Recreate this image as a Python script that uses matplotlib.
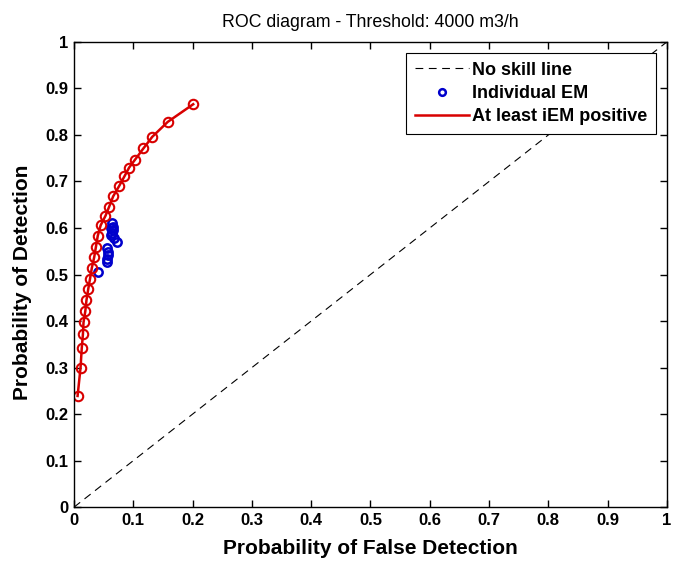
import matplotlib
matplotlib.use("Agg")
import matplotlib.pyplot as plt

plt.rcParams['font.family'] = ['Liberation Sans', 'DejaVu Sans']

# ROC curve: at least iEM positive
pofd_any = [0.006, 0.011, 0.013, 0.015, 0.016, 0.019, 0.021, 0.024, 0.027, 0.030,
            0.034, 0.037, 0.040, 0.045, 0.053, 0.059, 0.066, 0.076, 0.085, 0.093,
            0.103, 0.117, 0.132, 0.158, 0.201]
pod_any = [0.239, 0.300, 0.341, 0.372, 0.397, 0.421, 0.445, 0.469, 0.491, 0.514,
           0.537, 0.560, 0.583, 0.606, 0.626, 0.645, 0.668, 0.690, 0.711, 0.730,
           0.747, 0.771, 0.796, 0.828, 0.866]

# individual ensemble members
pofd_em = [0.064, 0.066, 0.065, 0.063, 0.064, 0.067, 0.073, 0.055, 0.057, 0.058,
           0.056, 0.055, 0.041, 0.062]
pod_em = [0.610, 0.603, 0.596, 0.600, 0.589, 0.578, 0.570, 0.556, 0.549, 0.542,
          0.533, 0.527, 0.506, 0.585]

fig = plt.figure(figsize=(6.73, 5.66), dpi=100)
ax = fig.add_axes([0.110, 0.104, 0.881, 0.822])

ax.plot([0, 1], [0, 1], 'k--', lw=0.8, dashes=(7, 5), label='No skill line')
ax.plot(pofd_em, pod_em, 'o', mfc='none', mec='#0000cc', mew=1.8, ms=6,
        label='Individual EM', linestyle='none')
ax.plot(pofd_any, pod_any, '-', color='#d80000', lw=1.8, label='At least iEM positive')
ax.plot(pofd_any, pod_any, 'o', mfc='none', mec='#d80000', mew=1.5, ms=6.8)

ax.set_xlim(0, 1)
ax.set_ylim(0, 1)
ticks = [i / 10 for i in range(11)]
labels = ['0', '0.1', '0.2', '0.3', '0.4', '0.5', '0.6', '0.7', '0.8', '0.9', '1']
ax.set_xticks(ticks)
ax.set_xticklabels(labels, fontweight='bold', fontsize=12)
ax.set_yticks(ticks)
ax.set_yticklabels(labels, fontweight='bold', fontsize=12)
ax.tick_params(direction='in', top=True, right=True, length=5, width=1, pad=4)
for s in ax.spines.values():
    s.set_linewidth(1)

ax.set_title('ROC diagram - Threshold: 4000 m3/h', fontsize=12.8, pad=11)
ax.set_xlabel('Probability of False Detection', fontsize=15, fontweight='bold')
ax.set_ylabel('Probability of Detection', fontsize=15, fontweight='bold')
ax.xaxis.set_label_coords(0.5, -0.068)
ax.yaxis.set_label_coords(-0.071, 0.483)

leg = ax.legend(loc='upper right', fancybox=False, framealpha=1, edgecolor='black',
                prop={'weight': 'bold', 'size': 13}, handlelength=3.0,
                handletextpad=0.15, borderaxespad=0.6, labelspacing=0.35,
                borderpad=0.5, markerscale=0.8)
leg.get_frame().set_linewidth(0.8)

fig.savefig('out.png', dpi=100)
